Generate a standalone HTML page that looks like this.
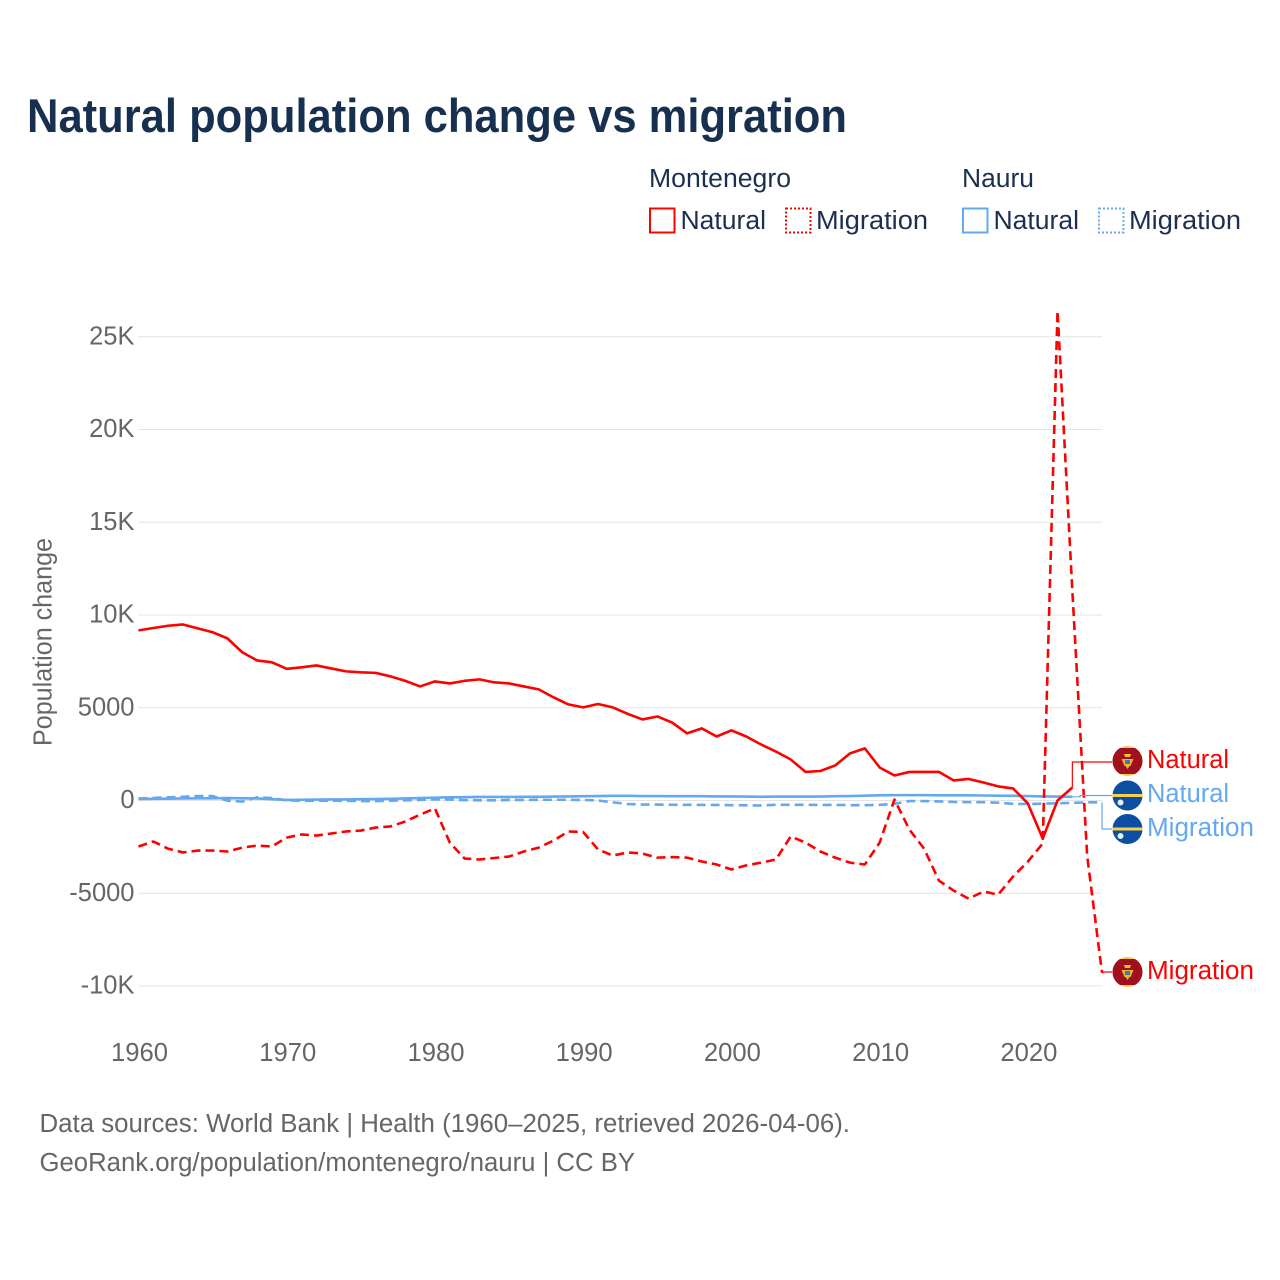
<!DOCTYPE html>
<html lang="en">
<head>
<meta charset="utf-8">
<title>Natural population change vs migration</title>
<style>
html,body{margin:0;padding:0;background:#fff;}
#wrap{width:1280px;height:1280px;overflow:hidden;}
svg{display:block;font-family:"Liberation Sans",Arial,sans-serif;}
</style>
</head>
<body>
<div id="wrap">
<svg id="chart" width="1280" height="1280" viewBox="0 0 1280 1280">
  <rect width="1280" height="1280" fill="#fff"/>
  <text x="27" y="132" font-size="47" font-weight="700" fill="#17304f" textLength="820" lengthAdjust="spacingAndGlyphs">Natural population change vs migration</text>

  <g font-size="25.5" fill="#1b3050">
    <text x="649" y="187" textLength="142" lengthAdjust="spacingAndGlyphs">Montenegro</text>
    <text x="962" y="187" textLength="72" lengthAdjust="spacingAndGlyphs">Nauru</text>
    <g>
      <rect x="650" y="208.5" width="24.5" height="24" fill="none" stroke="#ff0000" stroke-width="2"/>
      <text x="680.5" y="229" textLength="85.5" lengthAdjust="spacingAndGlyphs">Natural</text>
    </g>
    <g>
      <rect x="786" y="208.5" width="24.5" height="24" fill="none" stroke="#ff0000" stroke-width="2" stroke-dasharray="2 2"/>
      <text x="816" y="229" textLength="112" lengthAdjust="spacingAndGlyphs">Migration</text>
    </g>
    <g>
      <rect x="963" y="208.5" width="24.5" height="24" fill="none" stroke="#63a8f0" stroke-width="2"/>
      <text x="993.5" y="229" textLength="85.5" lengthAdjust="spacingAndGlyphs">Natural</text>
    </g>
    <g>
      <rect x="1099" y="208.5" width="24.5" height="24" fill="none" stroke="#63a8f0" stroke-width="2" stroke-dasharray="2 2"/>
      <text x="1129" y="229" textLength="112" lengthAdjust="spacingAndGlyphs">Migration</text>
    </g>
  </g>

  <g id="grid"></g>
  <g id="yticks" font-size="25.5" fill="#666666" text-anchor="end"></g>
  <g id="xticks" font-size="25.5" fill="#666666" text-anchor="middle"></g>
  <text transform="translate(51.5,642) rotate(-90)" font-size="25.5" fill="#666666" text-anchor="middle" textLength="208" lengthAdjust="spacingAndGlyphs">Population change</text>

  <g id="series"></g>

  <g font-size="25.5">
    <g transform="translate(1127.5,761)">
      <use href="#flag-me"/>
    </g>
    <g transform="translate(1127.5,795.5)">
      <use href="#flag-nr"/>
    </g>
    <g transform="translate(1127.5,829)">
      <use href="#flag-nr"/>
    </g>
    <g transform="translate(1127.5,972)">
      <use href="#flag-me"/>
    </g>
    <text x="1147" y="768" fill="#ff0000" textLength="82" lengthAdjust="spacingAndGlyphs">Natural</text>
    <text x="1147" y="802" fill="#63a8f0" textLength="82" lengthAdjust="spacingAndGlyphs">Natural</text>
    <text x="1147" y="836" fill="#63a8f0" textLength="107" lengthAdjust="spacingAndGlyphs">Migration</text>
    <text x="1147" y="979" fill="#ff0000" textLength="107" lengthAdjust="spacingAndGlyphs">Migration</text>
  </g>

  <g font-size="25.5" fill="#666666">
    <text x="39.5" y="1132" textLength="810.5" lengthAdjust="spacingAndGlyphs">Data sources: World Bank | Health (1960–2025, retrieved 2026-04-06).</text>
    <text x="39.5" y="1171" textLength="595.5" lengthAdjust="spacingAndGlyphs">GeoRank.org/population/montenegro/nauru | CC BY</text>
  </g>

  <defs>
    <clipPath id="flag-clip"><circle r="15"/></clipPath>
    <g id="flag-me" clip-path="url(#flag-clip)">
      <rect x="-15" y="-15" width="30" height="30" fill="#f2c94c"/>
      <rect x="-15" y="-13" width="30" height="26" fill="#a0101f"/>
      <path d="M-3.5-7h7l-1 3h-5z" fill="#f2c230"/>
      <path d="M-6-2h12l-3 7h-6z" fill="#e8b92c"/>
      <rect x="-2.5" y="-1" width="5" height="4" fill="#3f78b5"/>
      <path d="M-2 5h4l-2 3z" fill="#e8b92c"/>
    </g>
    <g id="flag-nr" clip-path="url(#flag-clip)">
      <rect x="-15" y="-15" width="30" height="30" fill="#0b4ea2"/>
      <rect x="-15" y="-1.5" width="30" height="3" fill="#f6cf4b"/>
      <circle cx="-7" cy="7" r="3" fill="#e6edf6"/>
    </g>
  </defs>
</svg>
</div>

<script>
const years = [];
for (let yr = 1960; yr <= 2025; yr++) years.push(yr);

const yTickValues = [-10000, -5000, 0, 5000, 10000, 15000, 20000, 25000];
const yTickLabels = ["-10K", "-5000", "0", "5000", "10K", "15K", "20K", "25K"];
const xTickValues = [1960, 1970, 1980, 1990, 2000, 2010, 2020];

const montenegroNatural = [
  9170, 9300, 9420, 9490, 9280, 9070, 8740, 7990, 7550, 7450,
  7100, 7180, 7280, 7120, 6960, 6910, 6880, 6690, 6450, 6150,
  6420, 6310, 6450, 6530, 6370, 6310, 6150, 5990, 5560, 5180,
  5020, 5200, 5020, 4670, 4370, 4530, 4200, 3620, 3890, 3450,
  3780, 3450, 3020, 2640, 2210, 1540, 1590, 1890, 2540, 2810,
  1780, 1350, 1540, 1540, 1540, 1080, 1160, 970, 760, 650,
  -160, -2050, 0, 700
];
const montenegroMigration = [
  -2480, -2210, -2600, -2800, -2700, -2700, -2750, -2540, -2430, -2480,
  -2000, -1830, -1890, -1780, -1670, -1620, -1460, -1400, -1130, -760,
  -430, -2270, -3130, -3180, -3100, -3020, -2750, -2540, -2160, -1670,
  -1700, -2640, -2970, -2800, -2860, -3080, -3050, -3080, -3290, -3450,
  -3720, -3500, -3350, -3180, -1940, -2270, -2750, -3080, -3350, -3450,
  -2270, 50, -1560, -2600, -4320, -4860, -5290, -4910, -5070, -4100,
  -3290, -2320, 26400, 11300, -3000, -9280
];
const nauruNatural = [
  80, 90, 100, 110, 115, 120, 130, 120, 110, 70,
  30, 40, 50, 60, 60, 70, 80, 90, 110, 130,
  150, 170, 180, 190, 190, 190, 200, 200, 210, 220,
  230, 240, 250, 250, 240, 240, 230, 230, 230, 220,
  220, 210, 200, 210, 210, 210, 210, 230, 240, 260,
  280, 290, 290, 290, 280, 280, 280, 270, 260, 250,
  240, 220, 210, 200
];
const nauruMigration = [
  110, 140, 170, 200, 240, 240, -10, -60, 170, 130,
  10, -20, -10, -10, -20, -30, -30, -10, 10, 30,
  60, 50, 20, 10, 10, 30, 30, 40, 40, 40,
  30, 0, -100, -190, -220, -220, -230, -230, -240, -240,
  -250, -260, -270, -230, -230, -230, -240, -240, -250, -250,
  -240, -180, -30, -30, -50, -80, -90, -90, -120, -180,
  -190, -170, -150, -130, -100, -100
];

const X_LEFT = 138.5, X_RIGHT = 1102, Y_ZERO = 800.5, PX_PER_UNIT = 0.01855;
function xScale(year) { return X_LEFT + (year - 1960) * (X_RIGHT - X_LEFT) / 65; }
function yScale(value) { return Y_ZERO - value * PX_PER_UNIT; }

const NS = "http://www.w3.org/2000/svg";
const gridGroup = document.getElementById("grid");
const yTickGroup = document.getElementById("yticks");
const xTickGroup = document.getElementById("xticks");
const seriesGroup = document.getElementById("series");

yTickValues.forEach(function (value, i) {
  const gridLine = document.createElementNS(NS, "line");
  gridLine.setAttribute("x1", X_LEFT);
  gridLine.setAttribute("x2", X_RIGHT);
  gridLine.setAttribute("y1", yScale(value));
  gridLine.setAttribute("y2", yScale(value));
  gridLine.setAttribute("stroke", "#e4e4e4");
  gridLine.setAttribute("stroke-width", "1");
  
  
  gridGroup.appendChild(gridLine);

  const label = document.createElementNS(NS, "text");
  label.setAttribute("x", 134.5);
  label.setAttribute("y", yScale(value) + 7.5);
  label.textContent = yTickLabels[i];
  
  
  yTickGroup.appendChild(label);
});

xTickValues.forEach(function (year) {
  const label = document.createElementNS(NS, "text");
  label.setAttribute("x", xScale(year) + 1);
  label.setAttribute("y", 1061);
  label.setAttribute("textLength", 57);
  label.setAttribute("lengthAdjust", "spacingAndGlyphs");
  label.textContent = String(year);
  
  
  xTickGroup.appendChild(label);
});

function buildPath(values) {
  return values.map(function (value, i) {
    return (i ? "L" : "M") + xScale(years[i]).toFixed(2) + " " + yScale(value).toFixed(2);
  }).join("");
}

function addSeries(values, color, dash, name) {
  const path = document.createElementNS(NS, "path");
  path.setAttribute("d", buildPath(values));
  path.setAttribute("fill", "none");
  path.setAttribute("stroke", color);
  path.setAttribute("stroke-width", "2.6");
  path.setAttribute("stroke-linejoin", "round");
  if (dash) path.setAttribute("stroke-dasharray", dash);
  
  
  seriesGroup.appendChild(path);
}

function addConnector(values, labelY, midX, color, name) {
  const last = values.length - 1;
  const endX = xScale(years[last]);
  const endY = yScale(values[last]);
  const connector = document.createElementNS(NS, "path");
  connector.setAttribute("d", "M" + endX + " " + endY + "H" + midX + "V" + labelY + "H1112");
  connector.setAttribute("fill", "none");
  connector.setAttribute("stroke", color);
  connector.setAttribute("stroke-width", "1.2");
  
  
  seriesGroup.appendChild(connector);
}

addSeries(nauruMigration, "#63a8f0", "9 5", "line-nauru-migration");
addSeries(nauruNatural, "#63a8f0", "", "line-nauru-natural");
addSeries(montenegroNatural, "#ff0000", "", "line-montenegro-natural");
addSeries(montenegroMigration, "#ff0000", "9 5", "line-montenegro-migration");
addConnector(montenegroNatural, 762, xScale(years[montenegroNatural.length - 1]), "#ff0000", "connector-montenegro-natural");
addConnector(nauruNatural, 795.5, 1080, "#63a8f0", "connector-nauru-natural");
addConnector(nauruMigration, 829, 1102, "#63a8f0", "connector-nauru-migration");
addConnector(montenegroMigration, 972, 1103, "#ff0000", "connector-montenegro-migration");
</script>
</body>
</html>
